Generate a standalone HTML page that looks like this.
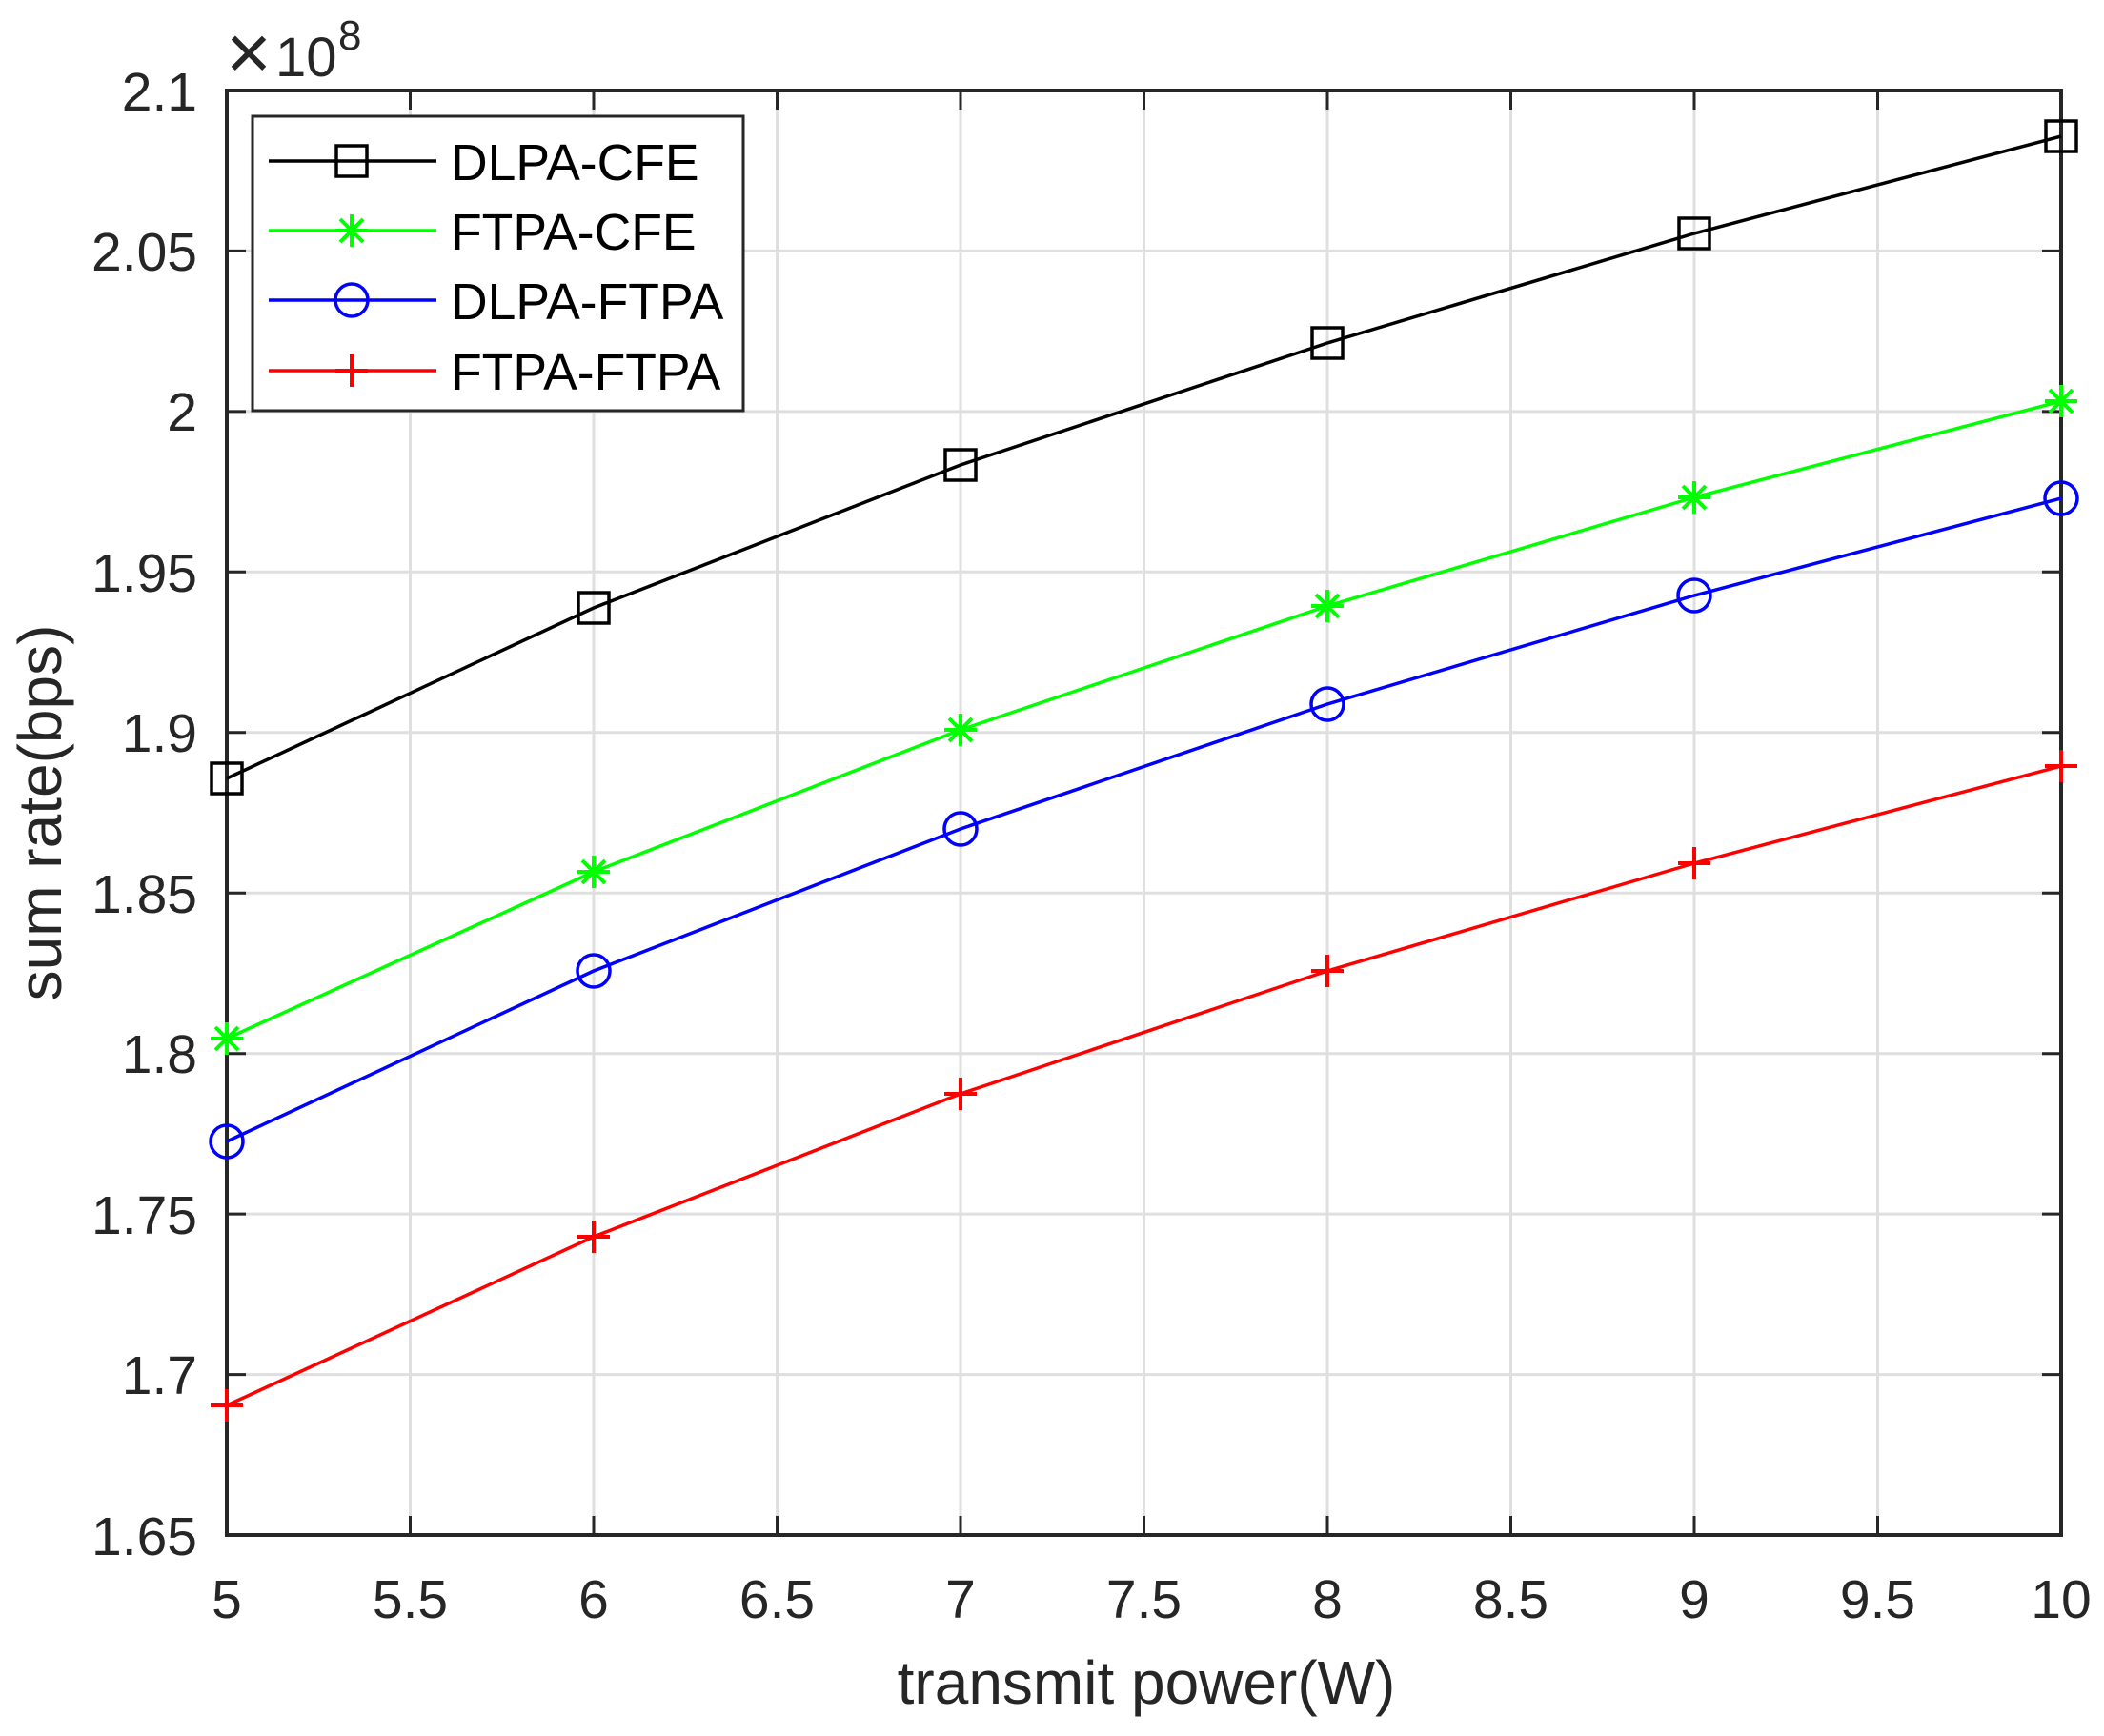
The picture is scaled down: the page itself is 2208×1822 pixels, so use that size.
<!DOCTYPE html>
<html><head><meta charset="utf-8"><style>body{margin:0;background:#fff}svg{display:block}</style></head>
<body>
<svg width="2208" height="1822" xmlns="http://www.w3.org/2000/svg" font-family="Liberation Sans, Arial, sans-serif">
<rect width="2208" height="1822" fill="#fff"/>
<g stroke="#dfdfdf" stroke-width="3">
<line x1="430.5" y1="95" x2="430.5" y2="1611"/><line x1="623" y1="95" x2="623" y2="1611"/>
<line x1="815.5" y1="95" x2="815.5" y2="1611"/><line x1="1008" y1="95" x2="1008" y2="1611"/>
<line x1="1200.5" y1="95" x2="1200.5" y2="1611"/><line x1="1393" y1="95" x2="1393" y2="1611"/>
<line x1="1585.5" y1="95" x2="1585.5" y2="1611"/><line x1="1778" y1="95" x2="1778" y2="1611"/>
<line x1="1970.5" y1="95" x2="1970.5" y2="1611"/>
<line x1="238" y1="263.4" x2="2163" y2="263.4"/><line x1="238" y1="431.9" x2="2163" y2="431.9"/>
<line x1="238" y1="600.3" x2="2163" y2="600.3"/><line x1="238" y1="768.8" x2="2163" y2="768.8"/>
<line x1="238" y1="937.2" x2="2163" y2="937.2"/><line x1="238" y1="1105.7" x2="2163" y2="1105.7"/>
<line x1="238" y1="1274.1" x2="2163" y2="1274.1"/><line x1="238" y1="1442.6" x2="2163" y2="1442.6"/>
</g>
<g stroke="#262626" stroke-width="3">
<path d="M430.5 1611v-20M623 1611v-20M815.5 1611v-20M1008 1611v-20M1200.5 1611v-20M1393 1611v-20M1585.5 1611v-20M1778 1611v-20M1970.5 1611v-20"/>
<path d="M430.5 95v20M623 95v20M815.5 95v20M1008 95v20M1200.5 95v20M1393 95v20M1585.5 95v20M1778 95v20M1970.5 95v20"/>
<path d="M238 263.4h20M238 431.9h20M238 600.3h20M238 768.8h20M238 937.2h20M238 1105.7h20M238 1274.1h20M238 1442.6h20"/>
<path d="M2163 263.4h-20M2163 431.9h-20M2163 600.3h-20M2163 768.8h-20M2163 937.2h-20M2163 1105.7h-20M2163 1274.1h-20M2163 1442.6h-20"/>
</g>
<rect x="238" y="95" width="1925" height="1516" fill="none" stroke="#262626" stroke-width="4"/>
<polyline fill="none" stroke="#000" stroke-width="3.5" points="238,817 623,638 1008,488 1393,360 1778,245 2163,143"/>
<g fill="none" stroke="#000" stroke-width="3.5">
<rect x="222" y="801" width="32" height="32"/><rect x="607" y="622" width="32" height="32"/><rect x="992" y="472" width="32" height="32"/>
<rect x="1377" y="344" width="32" height="32"/><rect x="1762" y="229" width="32" height="32"/><rect x="2147" y="127" width="32" height="32"/>
</g>
<polyline fill="none" stroke="#00ff00" stroke-width="3.5" points="238,1090 623,915 1008,766 1393,636 1778,522 2163,421"/>
<g stroke="#00ff00" stroke-width="4">
<path d="M0-17v34M-17 0h34M-12-12l24 24M-12 12l24-24" transform="translate(238,1090)"/>
<path d="M0-17v34M-17 0h34M-12-12l24 24M-12 12l24-24" transform="translate(623,915)"/>
<path d="M0-17v34M-17 0h34M-12-12l24 24M-12 12l24-24" transform="translate(1008,766)"/>
<path d="M0-17v34M-17 0h34M-12-12l24 24M-12 12l24-24" transform="translate(1393,636)"/>
<path d="M0-17v34M-17 0h34M-12-12l24 24M-12 12l24-24" transform="translate(1778,522)"/>
<path d="M0-17v34M-17 0h34M-12-12l24 24M-12 12l24-24" transform="translate(2163,421)"/>
</g>
<polyline fill="none" stroke="#0000ff" stroke-width="3.5" points="238,1198 623,1019 1008,870 1393,739 1778,625 2163,523"/>
<g fill="none" stroke="#0000ff" stroke-width="3.5">
<circle cx="238" cy="1198" r="17"/><circle cx="623" cy="1019" r="17"/><circle cx="1008" cy="870" r="17"/>
<circle cx="1393" cy="739" r="17"/><circle cx="1778" cy="625" r="17"/><circle cx="2163" cy="523" r="17"/>
</g>
<polyline fill="none" stroke="#ff0000" stroke-width="3.5" points="238,1475 623,1298 1008,1148 1393,1019 1778,906 2163,804"/>
<g stroke="#ff0000" stroke-width="4">
<path d="M238 1458v34M221 1475h34M623 1281v34M606 1298h34M1008 1131v34M991 1148h34M1393 1002v34M1376 1019h34M1778 889v34M1761 906h34M2163 787v34M2146 804h34"/>
</g>
<rect x="265" y="122" width="515" height="309" fill="#fff" stroke="#262626" stroke-width="3"/>
<line x1="282" y1="169" x2="458" y2="169" stroke="#000" stroke-width="3.5"/>
<rect x="353" y="153" width="32" height="32" fill="none" stroke="#000" stroke-width="3.5"/>
<line x1="282" y1="242" x2="458" y2="242" stroke="#00ff00" stroke-width="3.5"/>
<path d="M0-17v34M-17 0h34M-12-12l24 24M-12 12l24-24" transform="translate(369,242)" stroke="#00ff00" stroke-width="4"/>
<line x1="282" y1="315" x2="458" y2="315" stroke="#0000ff" stroke-width="3.5"/>
<circle cx="369" cy="315" r="17" fill="none" stroke="#0000ff" stroke-width="3.5"/>
<line x1="282" y1="389" x2="458" y2="389" stroke="#ff0000" stroke-width="3.5"/>
<path d="M369 372v34M352 389h34" stroke="#ff0000" stroke-width="4"/>
<g font-size="53.5" fill="#000">
<text x="473" y="189">DLPA-CFE</text><text x="473" y="262">FTPA-CFE</text>
<text x="473" y="335">DLPA-FTPA</text><text x="473" y="409">FTPA-FTPA</text>
</g>
<g font-size="57" fill="#262626" text-anchor="middle">
<text x="238" y="1698">5</text><text x="430.5" y="1698">5.5</text><text x="623" y="1698">6</text>
<text x="815.5" y="1698">6.5</text><text x="1008" y="1698">7</text><text x="1200.5" y="1698">7.5</text>
<text x="1393" y="1698">8</text><text x="1585.5" y="1698">8.5</text><text x="1778" y="1698">9</text>
<text x="1970.5" y="1698">9.5</text><text x="2163" y="1698">10</text>
</g>
<g font-size="57" fill="#262626" text-anchor="end">
<text x="207" y="1632">1.65</text><text x="207" y="1463">1.7</text><text x="207" y="1295">1.75</text>
<text x="207" y="1126">1.8</text><text x="207" y="958">1.85</text><text x="207" y="789">1.9</text>
<text x="207" y="621">1.95</text><text x="207" y="452">2</text><text x="207" y="284">2.05</text>
<text x="207" y="116">2.1</text>
</g>
<text x="261" y="83" font-size="82" fill="#262626" text-anchor="middle">×</text>
<text x="289" y="80" font-size="58" fill="#262626">10</text>
<text x="355" y="52" font-size="44" fill="#262626">8</text>
<text x="1203" y="1788" font-size="64" fill="#262626" text-anchor="middle">transmit power(W)</text>
<text transform="translate(64,853) rotate(-90)" font-size="64" fill="#262626" text-anchor="middle">sum rate(bps)</text>
</svg>
</body></html>
